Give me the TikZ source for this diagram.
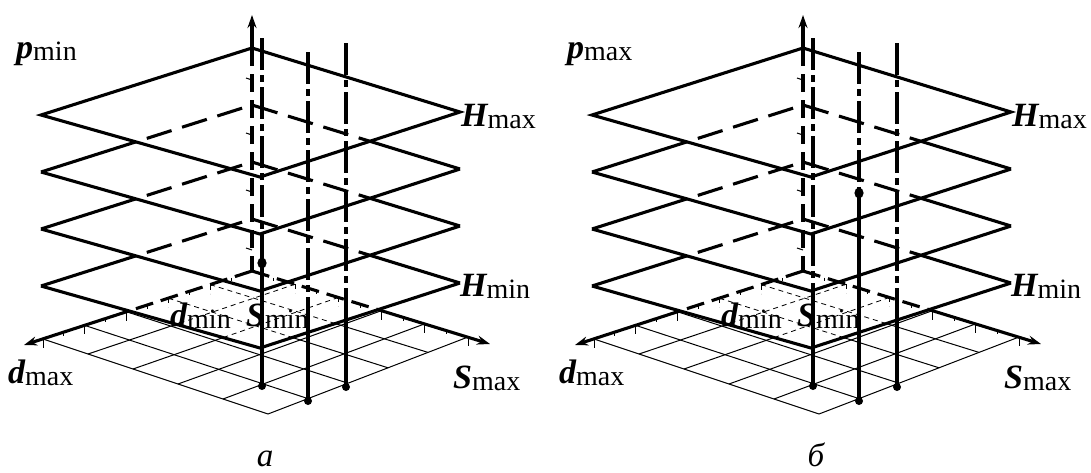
\documentclass[tikz,border=0pt]{standalone}
\usepackage{fontspec}
\usepackage{graphicx}
\setmainfont{Liberation Serif}
\usetikzlibrary{arrows.meta,calc}
\newcommand\biglab[2]{{\fontsize{34}{34}\selectfont\bfseries\itshape #1}\raisebox{-2pt}{\fontsize{28}{28}\selectfont #2}}
\tikzset{
  thk/.style={line width=3.1pt},
  thn/.style={line width=1pt},
  backdash/.style={dash pattern=on 26pt off 11pt},
  axisdash/.style={dash pattern=on 18pt off 8pt},
  gridhid/.style={line width=0.8pt, dash pattern=on 5pt off 4pt},
  dashdot/.style={dash pattern=on 32pt off 5pt on 7pt off 5pt},
  tipend/.style={-{Stealth[length=13pt,width=9pt]}},
  lab/.style={inner sep=0pt, anchor=base west},
}
% #1 prefix, #2 p-subscript, #3 caption, #4 dot x, #5 dot y, #6,#7,#8 split y of lines
\newcommand\drawpanel[8]{%
  \coordinate (#1-O) at (252,271);
  \coordinate (#1-GL) at (43,339);
  \coordinate (#1-GB) at (268,414);
  \coordinate (#1-GR) at (468,337);
  \coordinate (#1-Dt) at (24,345);
  \coordinate (#1-St) at (490,344);
  \coordinate (#1-Pt) at (252,15);
  \foreach \k in {0,1,2,3}{
    \coordinate (#1-T\k) at (252,{48+57*\k});
    \coordinate (#1-L\k) at (41,{115+57*\k});
    \coordinate (#1-B\k) at (260,{177+57*\k});
    \coordinate (#1-R\k) at (460,{112+57*\k});
  }
  % ---- ground: hidden part
  \begin{scope}
    \clip (#1-T3) -- (#1-L3) -- (#1-B3) -- (#1-R3) -- cycle;
    \foreach \t in {0.2,0.4,0.6,0.8,1.0}{
      \draw[gridhid] ($(#1-O)!\t!(#1-GL)$) -- ($(#1-GR)!\t!(#1-GB)$);
      \draw[gridhid] ($(#1-O)!\t!(#1-GR)$) -- ($(#1-GL)!\t!(#1-GB)$);
    }
    \foreach \t/\len in {0.1/3.5,0.2/9,0.3/3.5,0.4/9,0.5/3.5,0.6/9,0.7/3.5,0.8/9,0.9/3.5,1.0/9}{
      \draw[gridhid] ($(#1-O)!\t!(#1-GL)$) -- ++(0,\len);
      \draw[gridhid] ($(#1-O)!\t!(#1-GR)$) -- ++(0,\len);
    }
    \draw[thk,axisdash] (#1-O) -- (#1-Dt);
    \draw[thk,axisdash] (#1-O) -- (#1-St);
  \end{scope}
  % ---- ground: visible part
  \begin{scope}
    \clip (-600,-100) -- (1200,-100) -- (1200,600) -- (-600,600) -- cycle
      (#1-T3) -- (#1-L3) -- (#1-B3) -- (#1-R3) -- cycle;
    \foreach \t in {0.2,0.4,0.6,0.8,1.0}{
      \draw[thn] ($(#1-O)!\t!(#1-GL)$) -- ($(#1-GR)!\t!(#1-GB)$);
      \draw[thn] ($(#1-O)!\t!(#1-GR)$) -- ($(#1-GL)!\t!(#1-GB)$);
    }
    \foreach \t/\len in {0.1/3.5,0.2/9,0.3/3.5,0.4/9,0.5/3.5,0.6/9,0.7/3.5,0.8/9,0.9/3.5,1.0/9}{
      \draw[thn] ($(#1-O)!\t!(#1-GL)$) -- ++(0,\len);
      \draw[thn] ($(#1-O)!\t!(#1-GR)$) -- ++(0,\len);
    }
    \draw[thk,tipend] (#1-O) -- (#1-Dt);
    \draw[thk,tipend] (#1-O) -- (#1-St);
  \end{scope}
  % ---- vertical axis
  \draw[thk,tipend] (#1-T0) -- (#1-Pt);
  \draw[thk,axisdash] (#1-T0) -- (#1-O);
  \foreach \yy in {78,133,190,248}{ \draw[thn] (246,\yy) -- (252,{\yy+2}); }
  % ---- planes
  \draw[thk] (#1-T0) -- (#1-L0) -- (#1-B0) -- (#1-R0) -- cycle;
  \foreach \k [evaluate=\k as \u using int(\k-1)] in {1,2,3}{
    \draw[thk] (#1-L\k) -- (#1-B\k) -- (#1-R\k);
    \begin{scope}
      \clip (#1-T\u) -- (#1-L\u) -- (#1-B\u) -- (#1-R\u) -- cycle;
      \draw[thk,backdash] (#1-L\k) -- (#1-T\k) -- (#1-R\k);
    \end{scope}
    \begin{scope}
      \clip (-600,-100) -- (1200,-100) -- (1200,600) -- (-600,600) -- cycle
        (#1-T\u) -- (#1-L\u) -- (#1-B\u) -- (#1-R\u) -- cycle;
      \draw[thk] (#1-L\k) -- (#1-T\k) -- (#1-R\k);
    \end{scope}
  }
  % ---- vertical lines
  \draw[thk,dashdot] (262,38) -- (262,#6);
  \draw[thk] (262,#6) -- (262,386);
  \draw[thk,dashdot] (308,52) -- (308,#7);
  \draw[thk] (308,#7) -- (308,401);
  \draw[thk,dashdot] (346,43) -- (346,#8);
  \draw[thk] (346,#8) -- (346,387);
  \fill (262,386) circle (4pt);
  \fill (308,401) circle (4pt);
  \fill (346,387) circle (4pt);
  \fill (#4,#5) ellipse (4.6pt and 5.4pt);
  % ---- labels
  \node[lab] (#1-p) at (16,58) {\biglab{p}{#2}};
  \node[lab] (#1-Hmax) at (461,126) {\biglab{H}{max}};
  \node[lab] (#1-Hmin) at (460,296) {\biglab{H}{min}};
  \node[lab] (#1-dmin) at (170,326) {\biglab{d}{min}};
  \node[lab] (#1-smin) at (246,326) {\biglab{S}{min}};
  \node[lab] (#1-dmax) at (8,383) {\biglab{d}{max}};
  \node[lab] (#1-smax) at (453,388) {\biglab{S}{max}};
  \node[inner sep=0pt, anchor=base] (#1-cap) at (265,466) {\fontsize{33}{33}\selectfont\itshape #3};
}
\begin{document}
\begin{tikzpicture}[x=1pt,y=-1pt]
  \useasboundingbox (0,0) rectangle (1091,472);
  \begin{scope}
    \drawpanel{a}{min}{а}{262}{263}{263}{300}{300}
  \end{scope}
  \begin{scope}[xshift=551pt]
    \drawpanel{b}{max}{б}{308}{193}{300}{193}{300}
  \end{scope}
\end{tikzpicture}
\end{document}
